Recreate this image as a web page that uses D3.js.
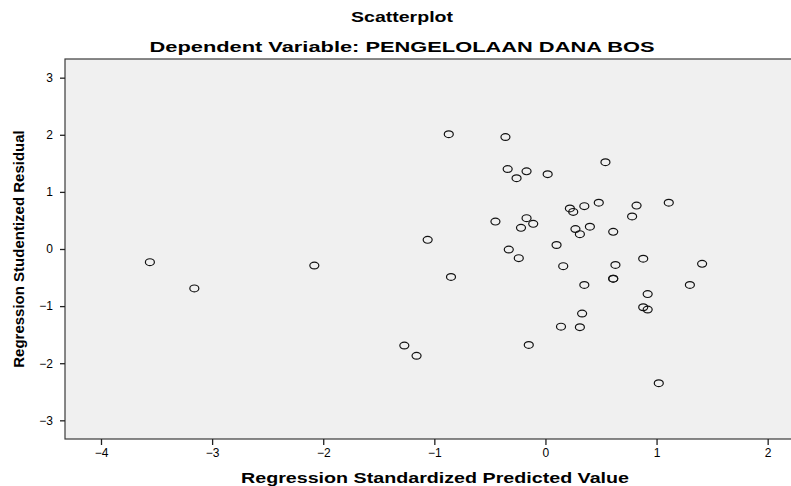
<!DOCTYPE html>
<html>
<head>
<meta charset="utf-8">
<script src="https://cdn.jsdelivr.net/npm/d3@7"></script>
<style>
  body { margin: 0; background: #fff; }
  text { font-family: "Liberation Sans", Arial, sans-serif; fill: #000; }
</style>
</head>
<body>
<div id="chart"></div>
<script>
// predicted values (x) and studentized residuals (y)
const predicted = [
  -3.56, -3.16, -2.08, -1.06, -0.87, -0.85, -1.27, -1.16, -0.36, -0.34,
  -0.17, -0.26, 0.02, 0.54, 0.22, 0.25, 0.35, 0.48, 0.82, 1.11,
  0.78, -0.45, -0.17, -0.11, -0.22, 0.27, 0.40, 0.31, 0.61, 0.10,
  -0.33, -0.24, 0.16, 0.63, 0.88, 1.41, 0.61, 0.61, 0.35, 1.30,
  0.92, 0.88, 0.92, 0.33, 0.31, 0.14, -0.15, 1.02
];
const residual = [
  -0.23, -0.69, -0.29, 0.16, 2.01, -0.49, -1.69, -1.87, 1.96, 1.40,
  1.36, 1.24, 1.31, 1.52, 0.71, 0.65, 0.75, 0.81, 0.76, 0.81,
  0.57, 0.48, 0.54, 0.44, 0.37, 0.35, 0.39, 0.26, 0.30, 0.07,
  -0.01, -0.16, -0.30, -0.28, -0.17, -0.26, -0.52, -0.52, -0.63, -0.63,
  -0.79, -1.02, -1.06, -1.13, -1.37, -1.36, -1.68, -2.35
];
const xTicks = [-4, -3, -2, -1, 0, 1, 2];
const yTicks = [-3, -2, -1, 0, 1, 2, 3];

const data = predicted.map((p, i) => ({ x: p, y: residual[i] }));

const width = 791, height = 486;
const margin = { top: 59, right: -4, bottom: 47, left: 65 };
const innerW = width - margin.left - margin.right,
  innerH = height - margin.top - margin.bottom;

const svg = d3.select("#chart")
  .append("svg")
  .attr("width", width)
  .attr("height", height);

const g = svg.append("g")
  .attr("transform", `translate(${margin.left},${margin.top})`);

const x = d3.scaleLinear()
  .domain([-4.324, 2.246])
  .range([0, innerW]);

const y = d3.scaleLinear()
  .domain([-3.327, 3.327])
  .range([innerH, 0]);

// plot background + frame
g.append("rect")
  .attr("width", innerW)
  .attr("height", innerH)
  .attr("fill", "#f0f0f0")
  .attr("stroke", "#3a3a3a")
  .attr("stroke-width", 1.2);

// axes
const xAxis = g.append("g")
  .attr("transform", `translate(0,${innerH})`)
  .call(d3.axisBottom(x).tickValues(xTicks).tickFormat(d3.format("d"))
    .tickSize(6).tickSizeOuter(0).tickPadding(3));
const yAxis = g.append("g")
  .call(d3.axisLeft(y).tickValues(yTicks).tickFormat(d3.format("d"))
    .tickSize(5).tickSizeOuter(0).tickPadding(7));

[xAxis, yAxis].forEach(a => {
  a.select(".domain").remove();
  a.selectAll("line").attr("stroke", "#222").attr("stroke-width", 1.3);
  a.selectAll("text")
    .style("font-family", "'Liberation Sans', Arial, sans-serif")
    .style("font-size", "12px")
    .attr("fill", "#111");
});

// points
g.selectAll("ellipse.pt")
  .data(data)
  .join("ellipse")
  .attr("class", "pt")
  .attr("cx", d => x(d.x))
  .attr("cy", d => y(d.y))
  .attr("rx", 4.5)
  .attr("ry", 3.4)
  .attr("fill", "none")
  .attr("stroke", "#111")
  .attr("stroke-width", 1.2);

// titles
svg.append("text")
  .attr("x", 402).attr("y", 22)
  .attr("text-anchor", "middle")
  .style("font-size", "15px").style("font-weight", "bold")
  .attr("textLength", 102).attr("lengthAdjust", "spacingAndGlyphs")
  .text("Scatterplot");

svg.append("text")
  .attr("x", 402).attr("y", 52)
  .attr("text-anchor", "middle")
  .style("font-size", "15px").style("font-weight", "bold")
  .attr("textLength", 505).attr("lengthAdjust", "spacingAndGlyphs")
  .text("Dependent Variable: PENGELOLAAN DANA BOS");

svg.append("text")
  .attr("x", 435).attr("y", 483)
  .attr("text-anchor", "middle")
  .style("font-size", "15px").style("font-weight", "bold")
  .attr("textLength", 388).attr("lengthAdjust", "spacingAndGlyphs")
  .text("Regression Standardized Predicted Value");

svg.append("text")
  .attr("transform", `translate(24,${margin.top + innerH / 2}) rotate(-90)`)
  .attr("text-anchor", "middle")
  .style("font-size", "15px").style("font-weight", "bold")
  .text("Regression Studentized Residual");
</script>
</body>
</html>
